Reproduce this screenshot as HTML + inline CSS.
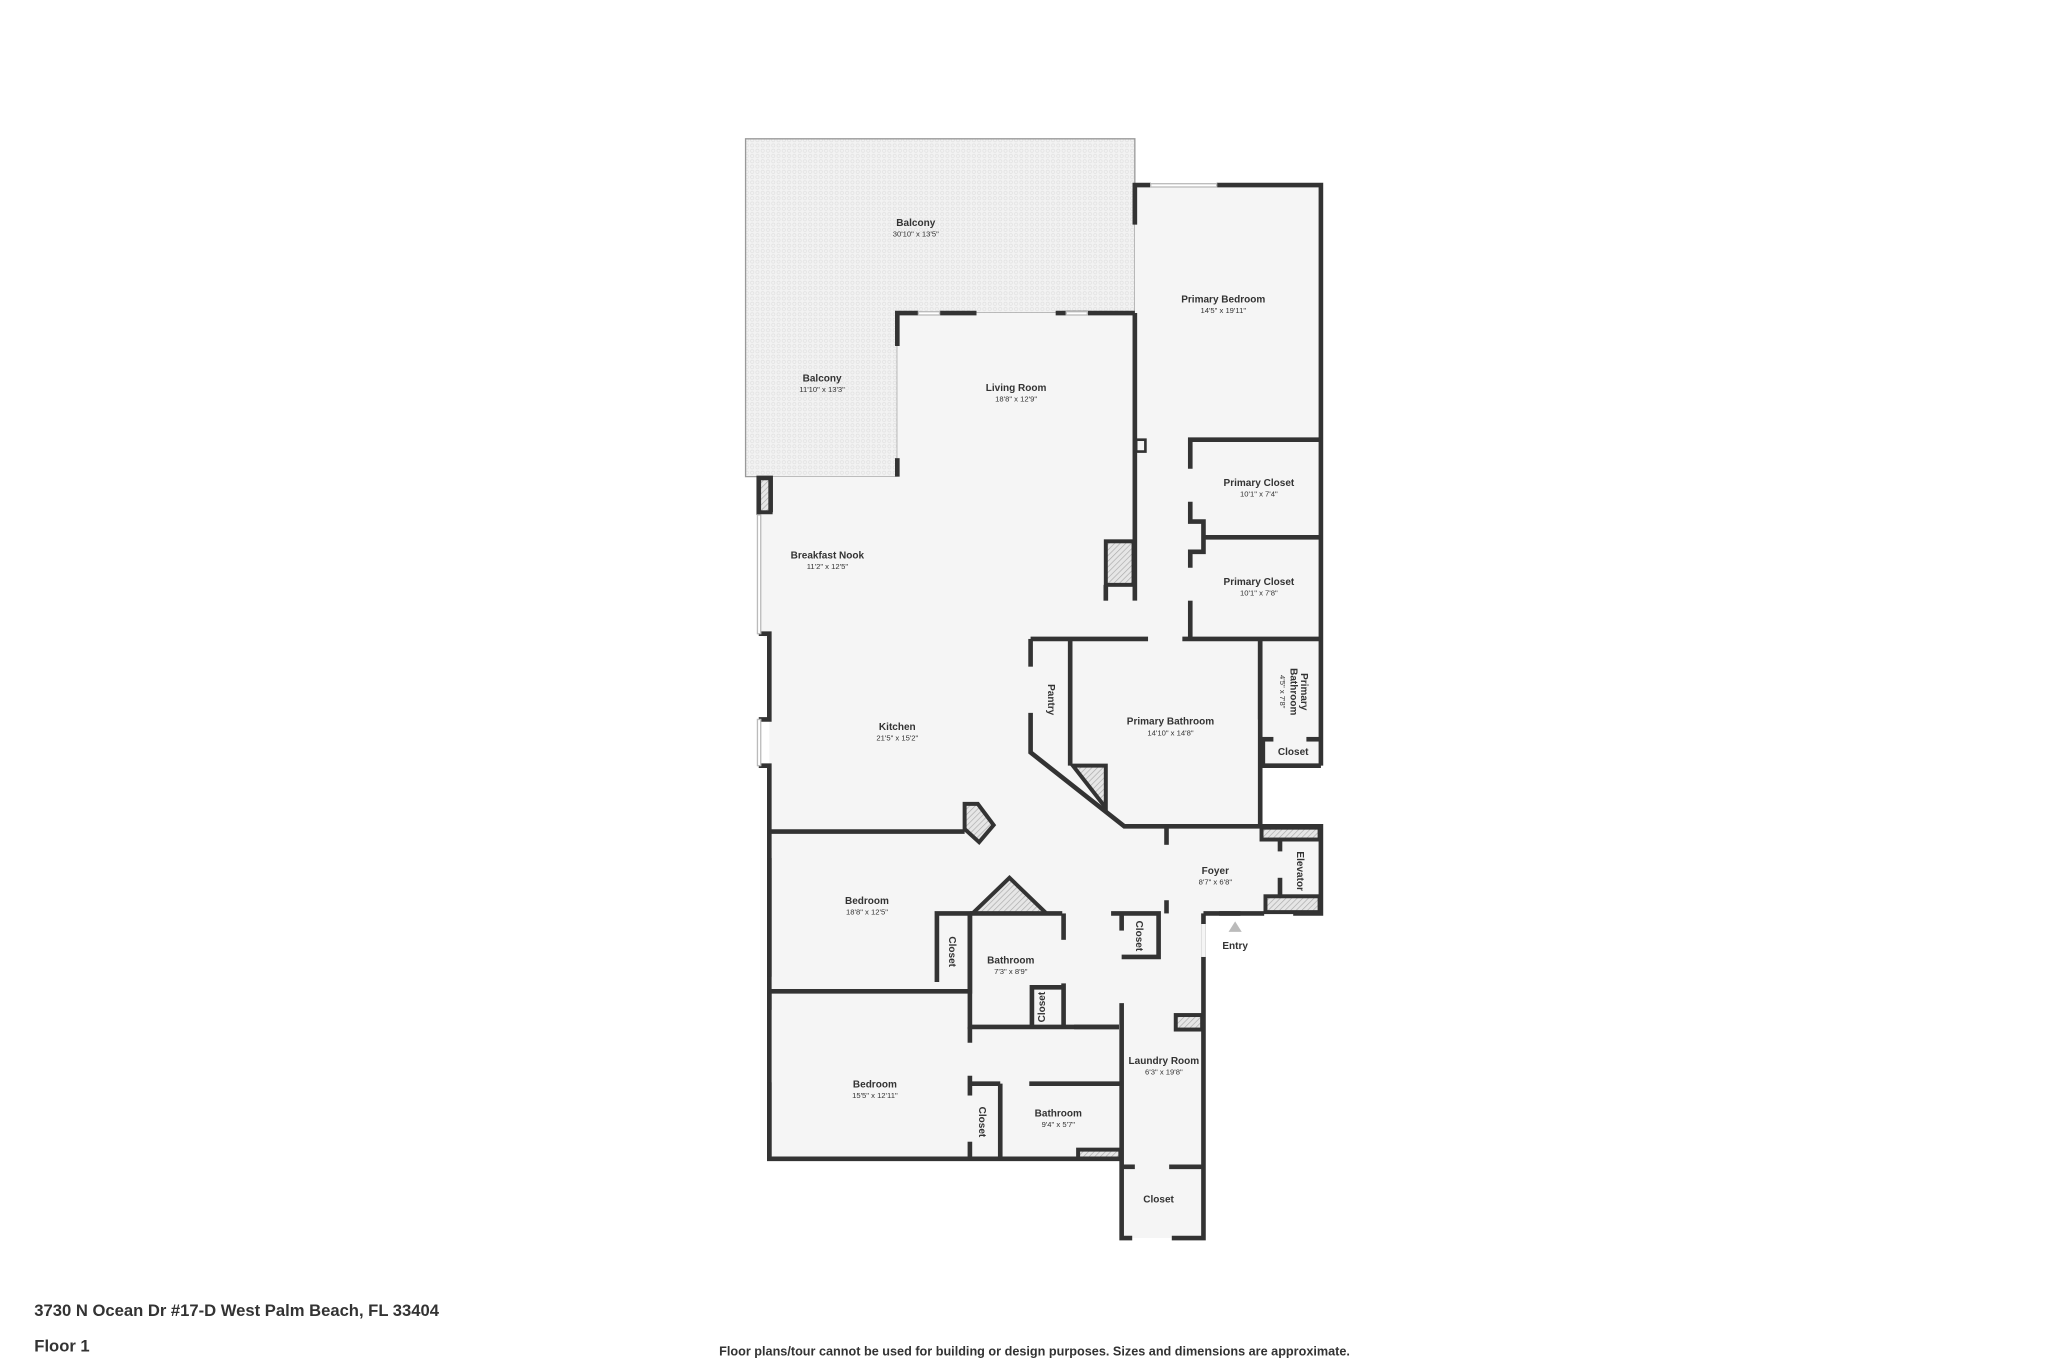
<!DOCTYPE html>
<html><head><meta charset="utf-8"><style>
html,body{margin:0;padding:0;background:#fff;}
svg{display:block;}
text{font-family:"Liberation Sans",sans-serif;fill:#333;text-anchor:middle;}
.n{font-size:7.6px;font-weight:bold;}
.d{font-size:5.8px;}
.f{font-size:12.6px;font-weight:bold;text-anchor:start;}
</style></head><body>
<svg width="2048" height="1365" viewBox="0 0 1552 1034" xmlns="http://www.w3.org/2000/svg">
<defs>
<pattern id="dots" width="4" height="4" patternUnits="userSpaceOnUse"><rect width="4" height="4" fill="#f2f2f2"/><circle cx="2" cy="2" r="1.2" fill="none" stroke="#e0e0e0" stroke-width="0.5"/></pattern>
<pattern id="hatch" width="3" height="3" patternUnits="userSpaceOnUse" patternTransform="rotate(45)"><rect width="3" height="3" fill="#e6e6e6"/><line x1="0" y1="0" x2="0" y2="3" stroke="#aaa" stroke-width="1"/></pattern>
</defs>
<path d="M565,105 H860 V237 H680 V361 H565 Z" fill="url(#dots)" stroke="#999" stroke-width="1"/>
<path d="M680,237 H860 V140 H1001 V580 H955 V626 H1001 V692 H912 V938 H850 V878 H583 V630 L583,485 575,480 575,390 583,361 H680 Z" fill="#f5f5f5"/>
<g fill="url(#hatch)" stroke="#333" stroke-width="3">
<rect x="575" y="362" width="9" height="26"/>
<rect x="838" y="410" width="21" height="33"/>
<path d="M731,609 L741,609 753,625 742,638 731,628 Z"/>
<path d="M737,692 L765,665 793,692 Z"/>
<path d="M813,580 L838,580 838,612 Z"/>
<rect x="956" y="627" width="44" height="9"/>
<rect x="959" y="679" width="41" height="12"/>
<rect x="891" y="769" width="20" height="11"/>
<rect x="817" y="871" width="32" height="7"/>
</g>
<g fill="none" stroke="#333" stroke-width="3.5" stroke-linejoin="miter">
<path d="M680,262 V237 H696"/><path d="M712,237 H740"/><path d="M800,237 H860"/>
<path d="M680,347 V361"/>
<path d="M860,170 V140 H872"/><path d="M922,140 H1001 V580"/>
<path d="M860,237 V455"/>
<rect x="861" y="333" width="7" height="9" stroke-width="2"/>
<path d="M575,390 V362 H584 V388"/>
<path d="M575,480 H583 V545 H575"/><path d="M575,580 H583 V878 H850"/>
<path d="M1001,333 H902 V355"/><path d="M902,380 V395 H912 V418 H902 V430"/><path d="M912,407 H1001"/>
<path d="M902,455 V484"/>
<path d="M781,484 H870"/><path d="M896,484 H1001"/>
<path d="M838,443 V455"/>
<path d="M781,484 V505"/><path d="M781,540 V570 L852,626 H955 V484"/>
<path d="M811,484 V580"/>
<path d="M955,484 V545"/><path d="M955,560 H965"/><path d="M990,560 H1001"/>
<path d="M957,560 V580 H1001"/>
<path d="M955,626 H1001 V692 H980"/><path d="M958,692 H912"/><path d="M924,692 H940"/>
<path d="M884,626 V640"/><path d="M884,682 V692"/>
<path d="M970,636 V645"/><path d="M970,665 V680"/>
<path d="M583,630 H731"/>
<path d="M583,650 V740"/><path d="M583,752 V765"/>
<path d="M735,692 H805"/>
<path d="M710,744 V692 H735 V751 H583"/>
<path d="M735,692 V778 H848"/><path d="M806,692 V712"/><path d="M806,745 V778"/>
<path d="M782,778 V748 H806"/>
<path d="M814,778 H848"/>
<path d="M842,692 H878 V725 H850"/>
<path d="M850,692 V705"/><path d="M850,760 V938 H858"/><path d="M888,938 H912 V692"/>
<path d="M912,700 V725" stroke="#f5f5f5"/>
<path d="M850,884 H860"/><path d="M886,884 H912"/>
<path d="M735,778 V790"/>
<path d="M735,821 H758"/><path d="M758,821 V878"/><path d="M780,821 H850"/>
<path d="M735,815 V830"/><path d="M735,865 V878"/>
<path d="M583,820 V878"/>
</g>
<g stroke="#bbb" stroke-width="1" fill="#fff">
<rect x="872" y="139" width="50" height="2.5"/>
<rect x="696" y="236" width="16" height="2.5"/>
<rect x="808" y="236" width="16" height="2.5"/>
<rect x="574" y="390" width="2.5" height="90"/>
<rect x="574" y="545" width="2.5" height="35"/>
</g>
<polygon points="936,698 931,706 941,706" fill="#bbb"/>
<g>
<text class="n" x="694" y="171">Balcony</text><text class="d" x="694" y="179">30'10" x 13'5"</text>
<text class="n" x="623" y="289">Balcony</text><text class="d" x="623" y="297">11'10" x 13'3"</text>
<text class="n" x="770" y="296">Living Room</text><text class="d" x="770" y="304">18'8" x 12'9"</text>
<text class="n" x="927" y="229">Primary Bedroom</text><text class="d" x="927" y="237">14'5" x 19'11"</text>
<text class="n" x="954" y="368">Primary Closet</text><text class="d" x="954" y="376">10'1" x 7'4"</text>
<text class="n" x="954" y="443">Primary Closet</text><text class="d" x="954" y="451">10'1" x 7'8"</text>
<text class="n" x="627" y="423">Breakfast Nook</text><text class="d" x="627" y="431">11'2" x 12'5"</text>
<text class="n" x="680" y="553">Kitchen</text><text class="d" x="680" y="561">21'5" x 15'2"</text>
<text class="n" x="887" y="549">Primary Bathroom</text><text class="d" x="887" y="557">14'10" x 14'8"</text>
<text class="n" x="980" y="572">Closet</text>
<text class="n" x="921" y="662">Foyer</text><text class="d" x="921" y="670">8'7" x 6'8"</text>
<text class="n" x="936" y="719">Entry</text>
<text class="n" x="657" y="685">Bedroom</text><text class="d" x="657" y="693">18'8" x 12'5"</text>
<text class="n" x="766" y="730">Bathroom</text><text class="d" x="766" y="738">7'3" x 8'9"</text>
<text class="n" x="663" y="824">Bedroom</text><text class="d" x="663" y="832">15'5" x 12'11"</text>
<text class="n" x="802" y="846">Bathroom</text><text class="d" x="802" y="854">9'4" x 5'7"</text>
<text class="n" x="882" y="806">Laundry Room</text><text class="d" x="882" y="814">6'3" x 19'8"</text>
<text class="n" x="878" y="911">Closet</text>
<text class="n" transform="translate(794,530) rotate(90)">Pantry</text>
<text class="n" transform="translate(719,721) rotate(90)">Closet</text>
<text class="n" transform="translate(792,763) rotate(-90)">Closet</text>
<text class="n" transform="translate(742,850) rotate(90)">Closet</text>
<text class="n" transform="translate(861,709) rotate(90)">Closet</text>
<text class="n" transform="translate(983,660) rotate(90)">Elevator</text>
<text class="n" transform="translate(986,524) rotate(90)">Primary</text>
<text class="n" transform="translate(978,524) rotate(90)">Bathroom</text>
<text class="d" transform="translate(970,524) rotate(90)">4'5" x 7'8"</text>
</g>
<text class="f" x="26" y="997">3730 N Ocean Dr #17-D West Palm Beach, FL 33404</text>
<text class="f" x="26" y="1024">Floor 1</text>
<text x="784" y="1027" style="font-size:9.6px;font-weight:bold;">Floor plans/tour cannot be used for building or design purposes. Sizes and dimensions are approximate.</text>
</svg>
</body></html>
